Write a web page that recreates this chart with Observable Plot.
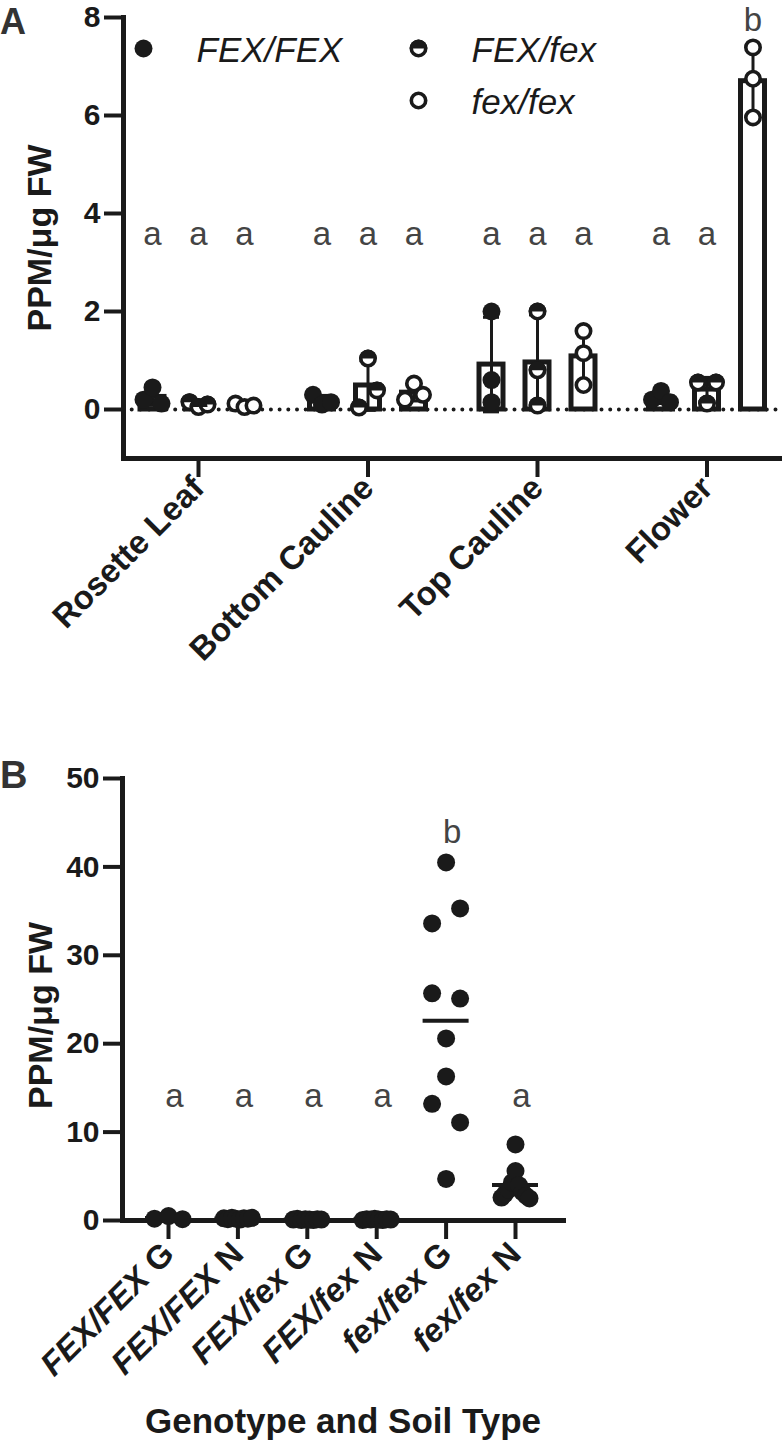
<!DOCTYPE html>
<html>
<head>
<meta charset="utf-8">
<script src="https://cdn.jsdelivr.net/npm/d3@7"></script>
<script src="https://cdn.jsdelivr.net/npm/@observablehq/plot@0.6"></script>
<style>
  html, body { margin: 0; padding: 0; background: #fff; }
  body { width: 782px; height: 1449px; position: relative; overflow: hidden; }
  #panelA { position: absolute; left: 0; top: 0; }
  #panelB { position: absolute; left: 0; top: 740px; }
  #letters { position: absolute; left: 0; top: 0; pointer-events: none; }
  svg { overflow: visible; }
</style>
</head>
<body>
<div id="panelA"></div>
<div id="panelB"></div>
<svg id="letters" width="782" height="1449">
  <text x="0" y="34" font-family="Liberation Sans, Arial, sans-serif" font-weight="bold" font-size="36" fill="#333">A</text>
  <text x="0" y="788" font-family="Liberation Sans, Arial, sans-serif" font-weight="bold" font-size="38" fill="#333">B</text>
</svg>
<script>
const FONT = '"Liberation Sans", Arial, Helvetica, sans-serif';
const INK = "#1a1a1a";
const LETTER_INK = "#444";

// ---------------- Panel A data (PPM/µg FW, 3 replicates) ----------------
const tissues = ["Rosette Leaf", "Bottom Cauline", "Top Cauline", "Flower"];
const genotypes = ["FEX/FEX", "FEX/fex", "fex/fex"];
const rosetteLeaf   = [[0.20, 0.45, 0.12], [0.15, 0.05, 0.10], [0.12, 0.05, 0.08]];
const bottomCauline = [[0.30, 0.10, 0.15], [0.04, 1.04, 0.39], [0.20, 0.53, 0.30]];
const topCauline    = [[2.00, 0.60, 0.15], [2.00, 0.80, 0.08], [1.60, 1.15, 0.50]];
const flower        = [[0.20, 0.38, 0.15], [0.55, 0.12, 0.55], [7.39, 6.75, 5.96]];
const lettersA = [["a", "a", "a"], ["a", "a", "a"], ["a", "a", "a"], ["a", "a", "b"]];
const tissueValues = [rosetteLeaf, bottomCauline, topCauline, flower];

// ---------------- Panel B data ----------------
const soilGroups = ["FEX/FEX G", "FEX/FEX N", "FEX/fex G", "FEX/fex N", "fex/fex G", "fex/fex N"];
const FEXFEX_G = [0.20, 0.50, 0.15];
const FEXFEX_N = [0.25, 0.15, 0.30, 0.20, 0.10, 0.25, 0.20, 0.30];
const FEXfex_G = [0.10, 0.20, 0.05, 0.15, 0.10, 0.05, 0.15, 0.10];
const FEXfex_N = [0.05, 0.15, 0.10, 0.20, 0.10, 0.05, 0.15, 0.10];
const fexfex_G = [40.5, 33.6, 35.3, 25.7, 25.1, 20.6, 16.3, 13.2, 11.1, 4.7];
const fexfex_N = [8.6, 2.6, 3.0, 3.5, 4.3, 5.6, 4.0, 3.2, 2.8, 2.5];
const lettersB = ["a", "a", "a", "a", "b", "a"];
const groupValues = [FEXFEX_G, FEXFEX_N, FEXfex_G, FEXfex_N, fexfex_G, fexfex_N];

// ---------------- helpers ----------------
// GraphPad-like scatter: points closer than `gap` px vertically are spread sideways
function spreadOffsets(vals, pxPerUnit, half, gap = 20) {
  const order = d3.range(vals.length).sort((i, j) => vals[j] - vals[i]);
  const off = new Array(vals.length).fill(0);
  let cluster = [order[0]];
  const flush = () => {
    const c = cluster.slice().sort((a, b) => a - b);
    const n = c.length;
    c.forEach((idx, k) => { off[idx] = n === 1 ? 0 : -half + 2 * half * k / (n - 1); });
  };
  for (let k = 1; k < order.length; k++) {
    const prev = order[k - 1], cur = order[k];
    if ((vals[prev] - vals[cur]) * pxPerUnit < gap) cluster.push(cur);
    else { flush(); cluster = [cur]; }
  }
  flush();
  return off;
}
const topHalf = {
  draw(ctx, size) {
    const r = Math.sqrt(size / Math.PI);
    ctx.moveTo(-r, 0);
    ctx.arc(0, 0, r, Math.PI, 2 * Math.PI);
    ctx.closePath();
  }
};
function genotypeMarks(g, data, opts) {
  const o = Object.assign({}, opts);
  if (g === "FEX/FEX") return [Plot.dot(data, {...o, r: 9, fill: INK})];
  const ring = Plot.dot(data, {...o, r: 7.2, fill: "white", stroke: INK, strokeWidth: 3.6});
  if (g === "FEX/fex") return [ring, Plot.dot(data, {...o, r: 9, symbol: topHalf, fill: INK})];
  return [ring];
}

// ---------------- Panel A layout ----------------
const A = {width: 782, height: 690, top: 17, bottom: 458, left: 123, right: 782, catStep: 169.5, firstCat: 198};
const yDomainA = [-1, 8];
const pxA = (A.bottom - A.top) / (yDomainA[1] - yDomainA[0]);
const xDomainA = [(A.left - A.firstCat) / A.catStep, (A.right - A.firstCat) / A.catStep];
const groupOffsetA = [-46, 0, 46].map(p => p / A.catStep);
const barHalfA = 12 / A.catStep;
const capHalfA = 8 / A.catStep;

const barsA = [], pointsA = [], capsA = [], letterRowsA = [];
tissueValues.forEach((byGeno, ti) => {
  byGeno.forEach((vals, gi) => {
    const x = ti + groupOffsetA[gi];
    const mean = d3.mean(vals), sd = d3.deviation(vals);
    barsA.push({tissue: tissues[ti], genotype: genotypes[gi], x, mean, lo: mean - sd, hi: mean + sd});
    capsA.push({x, y: mean + sd}, {x, y: mean - sd});
    const off = spreadOffsets(vals, pxA, 9);
    vals.forEach((v, k) => pointsA.push({genotype: genotypes[gi], x: x + off[k] / A.catStep, y: v}));
    const L = lettersA[ti][gi];
    letterRowsA.push({x, y: L === "b" ? d3.max(vals) + 0.34 : 3.35, text: L});
  });
});

const legendPos = [[20, 31], [295, 31], [295, 83]];
const legendMarks = genotypes.flatMap((g, i) => [
  ...genotypeMarks(g, [g], {frameAnchor: "top-left", dx: legendPos[i][0], dy: legendPos[i][1]}),
  Plot.text([g], {frameAnchor: "top-left", dx: legendPos[i][0] + 53, dy: legendPos[i][1] + 2,
    textAnchor: "start", lineAnchor: "middle", fontSize: 35, fontStyle: "italic", fill: INK})
]);

const plotA = Plot.plot({
  width: A.width, height: A.height,
  marginTop: A.top, marginBottom: A.height - A.bottom, marginLeft: A.left, marginRight: A.width - A.right,
  style: {fontFamily: FONT, color: INK, background: "white", overflow: "visible"},
  x: {domain: xDomainA},
  y: {domain: yDomainA},
  marks: [
    Plot.ruleY([0], {stroke: INK, strokeWidth: 4, strokeDasharray: "0 8.7", strokeLinecap: "round"}),
    Plot.rect(barsA, {x1: d => d.x - barHalfA, x2: d => d.x + barHalfA, y1: 0, y2: "mean",
      fill: "white", stroke: INK, strokeWidth: 5}),
    Plot.ruleX(barsA, {x: "x", y1: "lo", y2: "hi", stroke: INK, strokeWidth: 3}),
    Plot.ruleY(capsA, {y: "y", x1: d => d.x - capHalfA, x2: d => d.x + capHalfA, stroke: INK, strokeWidth: 3}),
    ...genotypes.flatMap(g => genotypeMarks(g, pointsA.filter(d => d.genotype === g), {x: "x", y: "y"})),
    Plot.frame({anchor: "left", stroke: INK, strokeWidth: 5, strokeLinecap: "square"}),
    Plot.frame({anchor: "bottom", stroke: INK, strokeWidth: 5, strokeLinecap: "square"}),
    Plot.axisY({ticks: [0, 2, 4, 6, 8], tickSize: 19, tickPadding: 4, strokeWidth: 4, fontSize: 30,
      fontWeight: "bold", label: null}),
    Plot.axisX({ticks: d3.range(tissues.length), tickFormat: i => tissues[i], tickRotate: -45, tickSize: 19,
      tickPadding: 5, strokeWidth: 4, fontSize: 33, fontWeight: "bold", label: null}),
    Plot.text(["PPM/μg FW"], {frameAnchor: "left", dx: -83, rotate: -90, textAnchor: "middle", lineAnchor: "middle",
      fontSize: 34, fontWeight: "bold", fill: INK}),
    Plot.text(letterRowsA, {x: "x", y: "y", text: "text", lineAnchor: "bottom", fontSize: 33, fill: LETTER_INK}),
    ...legendMarks
  ]
});
document.getElementById("panelA").append(plotA);

// ---------------- Panel B layout ----------------
const B = {top: 740, width: 782, height: 709, frameTop: 778, frameBottom: 1220, left: 122, right: 563, catStep: 69.4, firstCat: 168};
const yDomainB = [0, 50];
const pxB = (B.frameBottom - B.frameTop) / (yDomainB[1] - yDomainB[0]);
const xDomainB = [(B.left - B.firstCat) / B.catStep, (B.right - B.firstCat) / B.catStep];
const meanHalfB = 23 / B.catStep;

const pointsB = [], meansB = [], letterRowsB = [];
groupValues.forEach((vals, gi) => {
  const off = spreadOffsets(vals, pxB, 14);
  vals.forEach((v, k) => pointsB.push({group: soilGroups[gi], x: gi + off[k] / B.catStep, y: v}));
  meansB.push({group: soilGroups[gi], x: gi, mean: d3.mean(vals)});
  const L = lettersB[gi];
  letterRowsB.push({x: gi, y: L === "b" ? d3.max(vals) + 2.2 : 12.8, text: L});
});

const plotB = Plot.plot({
  width: B.width, height: B.height,
  marginTop: B.frameTop - B.top, marginBottom: B.top + B.height - B.frameBottom,
  marginLeft: B.left, marginRight: B.width - B.right,
  style: {fontFamily: FONT, color: INK, background: "white", overflow: "visible"},
  x: {domain: xDomainB},
  y: {domain: yDomainB},
  marks: [
    Plot.frame({anchor: "left", stroke: INK, strokeWidth: 5, strokeLinecap: "square"}),
    Plot.frame({anchor: "bottom", stroke: INK, strokeWidth: 5, strokeLinecap: "square"}),
    Plot.axisY({ticks: d3.range(0, 51, 10), tickSize: 19, tickPadding: 4, strokeWidth: 4, fontSize: 30,
      fontWeight: "bold", label: null}),
    Plot.axisX({ticks: d3.range(soilGroups.length), tickFormat: i => soilGroups[i], tickRotate: -45, tickSize: 19,
      tickPadding: 9, strokeWidth: 4, fontSize: 33, fontWeight: "bold", label: null}),
    Plot.dot(pointsB, {x: "x", y: "y", r: 9, fill: INK}),
    Plot.ruleY(meansB, {y: "mean", x1: d => d.x - meanHalfB, x2: d => d.x + meanHalfB, stroke: INK, strokeWidth: 4}),
    Plot.text(letterRowsB, {x: "x", y: "y", text: "text", dx: 6, lineAnchor: "bottom", fontSize: 33, fill: LETTER_INK}),
    Plot.text(["PPM/μg FW"], {frameAnchor: "left", dx: -81, dy: 16, rotate: -90, textAnchor: "middle", lineAnchor: "middle",
      fontSize: 34, fontWeight: "bold", fill: INK}),
    Plot.text(["Genotype and Soil Type"], {frameAnchor: "bottom", dy: 212, fontSize: 35, fontWeight: "bold", fill: INK})
  ]
});
document.getElementById("panelB").append(plotB);

// italic genotype, upright soil letter
plotB.querySelectorAll('[aria-label="x-axis tick label"] text').forEach(t => {
  const s = t.textContent;
  const cut = s.lastIndexOf(" ");
  t.textContent = "";
  const a = document.createElementNS("http://www.w3.org/2000/svg", "tspan");
  a.setAttribute("font-style", "italic");
  a.textContent = s.slice(0, cut);
  const b = document.createElementNS("http://www.w3.org/2000/svg", "tspan");
  b.textContent = s.slice(cut);
  t.append(a, b);
});
</script>
</body>
</html>
